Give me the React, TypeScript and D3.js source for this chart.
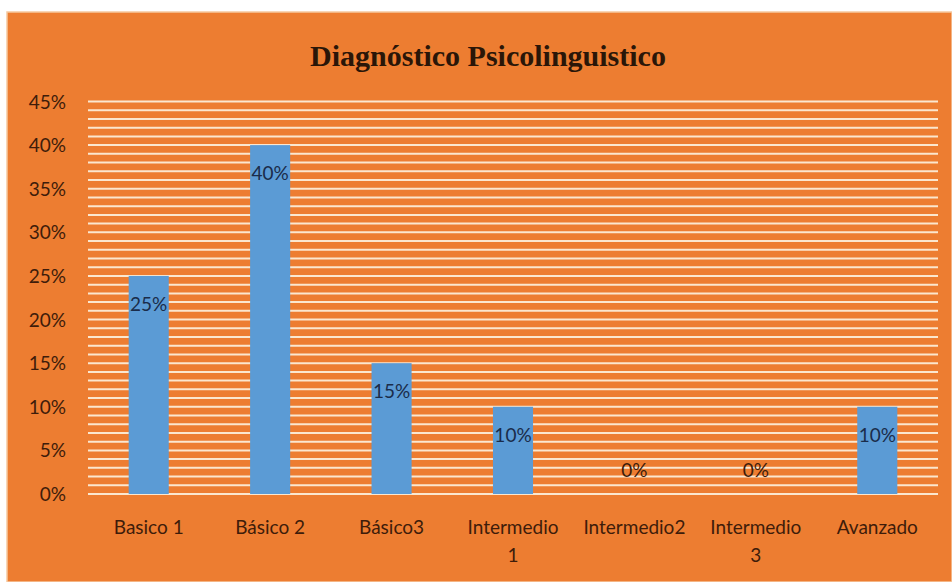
import { useEffect, useRef } from 'react';
import * as d3 from 'd3';

const categories = ['Basico 1', 'Básico 2', 'Básico3', 'Intermedio 1', 'Intermedio2', 'Intermedio 3', 'Avanzado'];
// x labels as shown (Excel wrapped two of them)
const categoryLines = [['Basico 1'], ['Básico 2'], ['Básico3'], ['Intermedio', '1'], ['Intermedio2'], ['Intermedio', '3'], ['Avanzado']];
const values = [0.25, 0.40, 0.15, 0.10, 0, 0, 0.10];
const yTicks = [0, 0.05, 0.1, 0.15, 0.2, 0.25, 0.3, 0.35, 0.4, 0.45];

const W = 952;
const H = 582;
const FONT = 'Lato, "Open Sans", sans-serif';

export default function App() {
  const svgRef = useRef<SVGSVGElement>(null);

  useEffect(() => {
    if (!svgRef.current) return;
    const svg = d3.select(svgRef.current);
    svg.selectAll('*').remove();

    const left = 88, right = 938, top = 101.5, bottom = 494;

    // background panel
    svg.append('rect').attr('width', W).attr('height', H).attr('fill', '#fff');
    svg.append('rect')
      .attr('x', 7).attr('y', 12)
      .attr('width', W - 7).attr('height', H - 12)
      .attr('fill', '#ED7D31')
      .attr('stroke', '#f6c9a0').attr('stroke-width', 1.5);

    svg.append('text')
      .attr('x', 488).attr('y', 66)
      .attr('text-anchor', 'middle')
      .attr('font-family', '"Liberation Serif", "DejaVu Serif", serif')
      .attr('font-weight', 'bold')
      .attr('font-size', 30)
      .attr('fill', '#2a1608')
      .text('Diagnóstico Psicolinguistico');

    const x = d3.scaleBand<string>()
      .domain(categories)
      .range([left, right])
      .paddingInner(0.67)
      .paddingOuter(0.335);

    const y = d3.scaleLinear().domain([0, 0.45]).range([bottom, top]);

    // gridlines every 1%
    const grid = d3.range(0, 46).map(i => i / 100);
    svg.append('g')
      .selectAll('line')
      .data(grid)
      .enter()
      .append('line')
      .attr('x1', left).attr('x2', right)
      .attr('y1', d => y(d)).attr('y2', d => y(d))
      .attr('stroke', '#fbe7cf')
      .attr('stroke-width', 2);

    // y tick labels
    svg.append('g')
      .selectAll('text')
      .data(yTicks)
      .enter()
      .append('text')
      .attr('x', 66)
      .attr('y', d => y(d) + 7)
      .attr('text-anchor', 'end')
      .attr('font-family', FONT)
      .attr('font-size', 19)
      .attr('fill', '#3e1c0a')
      .text(d => d3.format('.0%')(d));

    // bars
    svg.append('g')
      .selectAll('rect')
      .data(values)
      .enter()
      .append('rect')
      .attr('x', (_, i) => x(categories[i])!)
      .attr('y', d => y(d))
      .attr('width', x.bandwidth())
      .attr('height', d => bottom - y(d))
      .attr('fill', '#5B9BD5');

    // data labels
    svg.append('g')
      .selectAll('text')
      .data(values)
      .enter()
      .append('text')
      .attr('x', (_, i) => x(categories[i])! + x.bandwidth() / 2)
      .attr('y', d => (d > 0 ? y(d) + 35 : y(0) - 17))
      .attr('text-anchor', 'middle')
      .attr('font-family', FONT)
      .attr('font-size', 19)
      .attr('fill', d => (d > 0 ? '#1a2c4a' : '#3e1c0a'))
      .text(d => d3.format('.0%')(d));

    // x labels
    const xl = svg.append('g');
    categoryLines.forEach((lines, i) => {
      const cx = x(categories[i])! + x.bandwidth() / 2;
      lines.forEach((line, j) => {
        xl.append('text')
          .attr('x', cx)
          .attr('y', 534 + j * 28)
          .attr('text-anchor', 'middle')
          .attr('font-family', FONT)
          .attr('font-size', 19)
          .attr('fill', '#3e1c0a')
          .text(line);
      });
    });
  }, []);

  return <svg ref={svgRef} width={W} height={H} style={{ position: 'absolute', left: 0, top: 0, display: 'block' }} />;
}
